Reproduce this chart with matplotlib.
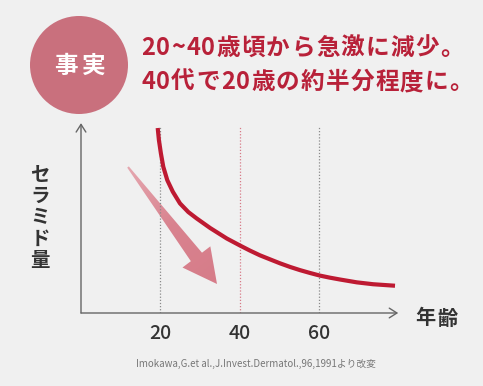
import numpy as np
import matplotlib.pyplot as plt
from matplotlib.colors import LinearSegmentedColormap
from matplotlib.patches import Circle, Polygon

plt.rcParams['font.family'] = ['Noto Sans CJK JP', 'DejaVu Sans']

# ── Data ──────────────────────────────────────────────────────────────────────
ages     = [19.3, 19.6, 20.1, 20.7, 21.7, 23.1, 24.9, 27.0, 29.1, 32.5,
            36.7, 40.0, 42.5, 45.0, 47.6, 50.1, 52.6, 55.1, 57.6, 60.1,
            62.6, 65.2, 69.4, 73.5, 79.0]
ceramide = [98.4, 92.0, 84.9, 77.8, 70.7, 64.5, 58.3, 53.7, 50.3, 45.2,
            39.6, 35.9, 33.2, 30.7, 28.5, 26.4, 24.5, 22.8, 21.3, 19.9,
            18.8, 17.8, 16.3, 15.3, 14.5]
guide_ages  = [20, 40, 60]
tick_labels = ['20', '40', '60']

headline = ['20~40歳頃から急激に減少。', '40代で20歳の約半分程度に。']
badge    = '事実'
ylabel   = 'セラミド量'
xlabel   = '年齢'
source   = 'Imokawa,G.et al.,J.Invest.Dermatol.,96,1991より改変'

# ── Colours ───────────────────────────────────────────────────────────────────
BG      = '#f0f0f0'
RED     = '#be1a32'
TITLE   = '#b82139'
BADGE   = '#c9707d'
ARROW   = '#d9838f'
DARK    = '#333333'
AXIS    = '#666666'

W, H = 483, 386
fig = plt.figure(figsize=(W / 100, H / 100), dpi=100, facecolor=BG)

# main plot area (pixel box: x 81..397, y 125..313)
ax = fig.add_axes([81 / W, (H - 313) / H, (397 - 81) / W, (313 - 125) / H])
ax.set_facecolor('none')
ax.set_xlim(0, 79.5)
ax.set_ylim(0, 100)
for s in ax.spines.values():
    s.set_visible(False)

# axes with open chevron heads
for tip_xy in [(79.8, 0), (0, 101)]:
    ax.annotate('', xy=tip_xy, xytext=(0, 0), annotation_clip=False,
                arrowprops=dict(arrowstyle='->,head_length=0.55,head_width=0.35',
                                color=AXIS, lw=1.0, shrinkA=0, shrinkB=0))

# dotted guides
for a in guide_ages:
    c = '#d77a88' if a == 40 else '#8a8a8a'
    ax.plot([a, a], [0, 99], ls=(0, (1, 1.5)), color=c, lw=0.9, zorder=1)

ax.plot(ages, ceramide, color=RED, lw=3.0, solid_capstyle='butt',
        solid_joinstyle='round', zorder=3, clip_on=False)

ax.set_xticks(guide_ages)
ax.set_xticklabels(tick_labels, fontsize=14, color=DARK, fontweight='medium')
ax.tick_params(axis='x', length=0, pad=8)
ax.set_yticks([])

# ── Overlay in pixel coordinates ─────────────────────────────────────────────
ov = fig.add_axes([0, 0, 1, 1])
ov.set_xlim(0, W)
ov.set_ylim(H, 0)
ov.axis('off')
ov.set_zorder(-1)
ax.set_zorder(2)

renderer = fig.canvas.get_renderer()


def spaced(x, y, s, gap, ha='left', **kw):
    """Draw a string char by char with extra letter spacing (pixels)."""
    arts, widths = [], []
    for ch in s:
        t = ov.text(0, y, ch, va='center', ha='left', **kw)
        arts.append(t)
        widths.append(t.get_window_extent(renderer).width)
    total = sum(widths) + gap * (len(s) - 1)
    cx = x - total / 2 if ha == 'center' else x
    for t, w in zip(arts, widths):
        t.set_x(cx)
        cx += w + gap


# badge
ov.add_patch(Circle((79, 65), 49, color=BADGE, lw=0))
spaced(80, 66, badge, 4, ha='center', color='white', fontsize=17, fontweight='bold')

# headline
spaced(141, 48, headline[0], 1.2, color=TITLE, fontsize=17, fontweight='bold')
spaced(141, 82, headline[1], 1.2, color=TITLE, fontsize=17, fontweight='bold')

# tapered arrow with gradient
tail = np.array([128.0, 167.0])
tip = np.array([217.0, 284.0])
u = (tip - tail) / np.linalg.norm(tip - tail)
n = np.array([-u[1], u[0]])
base = tip - u * 34
pts = [tail + n * 1, base + n * 7, base + n * 17.5, tip,
       base - n * 17.5, base - n * 7, tail - n * 1]
poly = Polygon(pts, closed=True, facecolor='none', edgecolor='none')
ov.add_patch(poly)
gx, gy = np.meshgrid(np.linspace(0, 1, 200), np.linspace(0, 1, 200))
grad = gx * u[0] * 140 + gy * u[1] * 150
cmap = LinearSegmentedColormap.from_list('ar', ['#eab6bd', ARROW, '#d57a87'])
img = ov.imshow(grad, extent=(100, 240, 300, 150), origin='upper',
                cmap=cmap, aspect='auto', zorder=2)
img.set_clip_path(poly)
ov.set_xlim(0, W)
ov.set_ylim(H, 0)

# y label stacked vertically
for i, ch in enumerate(ylabel):
    ov.text(40, 175 + i * 21.5, ch, ha='center', va='center', color=DARK,
            fontsize=14, fontweight='bold')

spaced(415, 318, xlabel, 2, color=DARK, fontsize=14.5, fontweight='bold')

ov.text(256, 364, source, ha='center', va='center', color='#777777',
        fontsize=7, family=['Liberation Sans Narrow', 'Noto Sans CJK JP'])

fig.savefig('out.png', dpi=100, facecolor=BG)
